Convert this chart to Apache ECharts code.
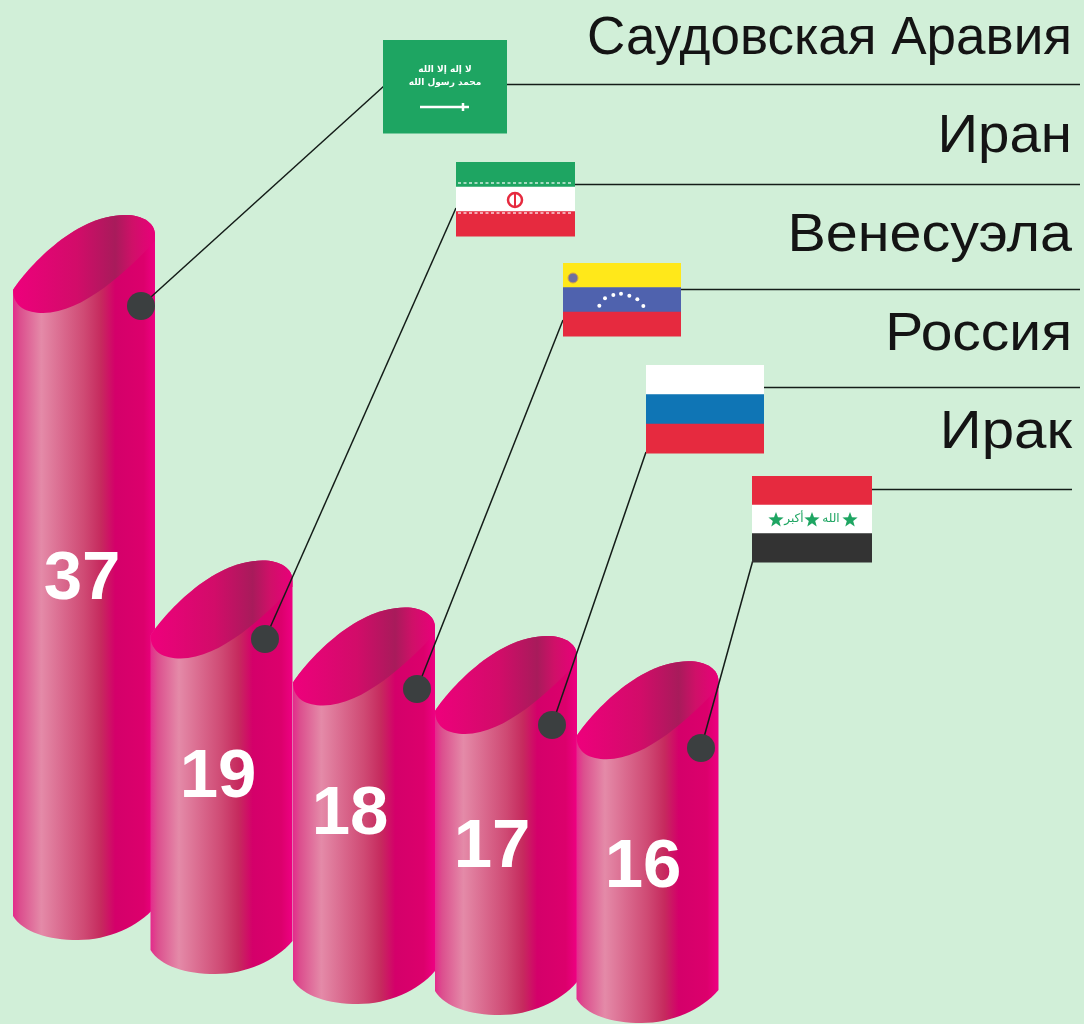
<!DOCTYPE html>
<html>
<head>
<meta charset="utf-8">
<title>Oil chart</title>
<script src="https://cdn.jsdelivr.net/npm/echarts@6/dist/echarts.min.js"></script>
<style>
html, body { margin: 0; padding: 0; background: #d1efd8; }
#chart { width: 1084px; height: 1024px; }
</style>
</head>
<body>
<div id="chart"></div>
<script>
// data
let countries = ["Саудовская Аравия", "Иран", "Венесуэла", "Россия", "Ирак"];
let values = [37, 19, 18, 17, 16];

// layout of the cylinders, pixels
let base_y = [940, 974, 1004, 1015, 1023];
let x_nudge = [0.5, -3, -1.5, -0.5, 0];
let value_x = [82, 218, 350, 492, 643];
let value_y = [580, 778, 815, 848, 868];
let dot_x = [141, 265, 417, 552, 701];
let dot_y = [306, 639, 689, 725, 748];

// layout of the flags and callouts
let flag_x = [383, 456, 563, 646, 752];
let flag_y = [40, 162, 263, 365, 476];
let flag_w = [124, 119, 118, 118, 120];
let flag_h = [93, 74, 73, 88, 86];
let lead_x = [384, 456, 563, 646, 753];
let lead_y = [86, 208, 320, 452, 560];
let rule_y = [84, 184, 289, 387, 489];
let rule_end = [1080, 1080, 1080, 1080, 1072];
let name_y = [66, 164, 263, 362, 460];
// the names in the picture are set a bit wide, except the first
let name_stretch = [1, 1.065, 1.085, 1.075, 1.1];

let RED = "#e62a3f";
let GREEN = "#1ea562";
let stripes = [
    [GREEN],
    [GREEN, "#ffffff", RED],
    ["#ffe81a", "#4f62ae", RED],
    ["#ffffff", "#0f75b5", RED],
    [RED, "#ffffff", "#333333"]
];

let body_colors = new echarts.graphic.LinearGradient(0, 0, 1, 0, [
    {offset: 0, color: "#e42a8c"},
    {offset: 0.05, color: "#dc4f8e"},
    {offset: 0.2, color: "#e48aa8"},
    {offset: 0.36, color: "#d9678c"},
    {offset: 0.5, color: "#cf4a74"},
    {offset: 0.62, color: "#c62a5e"},
    {offset: 0.72, color: "#d4006a"},
    {offset: 0.92, color: "#dc006c"},
    {offset: 1, color: "#ee0082"}
]);
let cap_colors = new echarts.graphic.LinearGradient(0, 0, 1, 0, [
    {offset: 0, color: "#ee007c"},
    {offset: 0.45, color: "#d20c69"},
    {offset: 0.72, color: "#a81b5b"},
    {offset: 0.84, color: "#cf1068"},
    {offset: 1, color: "#e9007a"}
]);

function draw_cylinder(params, api)
{
    let i = api.value(0);
    let band = api.size([1, 0])[0];
    let w = band + 1;
    let h = api.size([0, api.value(1)])[1];
    let L = api.coord([i, 0])[0] - w / 2 + x_nudge[i];
    let bot = base_y[i];
    let top = bot - 85 - h;
    let k = w / 142;
    let X = x => (L + x * k).toFixed(1);
    let Y = y => (top + y).toFixed(1);

    let rim = "C" + X(12) + "," + Y(56) + " " + X(60) + "," + Y(0) + " " + X(112) + "," + Y(0)
        + " C" + X(130) + "," + Y(0) + " " + X(142) + "," + Y(8) + " " + X(142) + "," + Y(20);
    let body = "M" + X(0) + "," + Y(75) + " " + rim
        + " L" + X(142) + "," + (bot - 33)
        + " C" + X(125) + "," + (bot - 13) + " " + X(95) + "," + bot + " " + X(65) + "," + bot
        + " C" + X(35) + "," + bot + " " + X(10) + "," + (bot - 8) + " " + X(0) + "," + (bot - 24) + " Z";
    let cap = "M" + X(0) + "," + Y(75) + " " + rim
        + " L" + X(142) + "," + Y(26)
        + " C" + X(115) + "," + Y(55) + " " + X(70) + "," + Y(98) + " " + X(30) + "," + Y(98)
        + " C" + X(14) + "," + Y(98) + " " + X(0) + "," + Y(92) + " " + X(0) + "," + Y(75) + " Z";

    return {
        type: "group",
        children: [
            {type: "path", shape: {pathData: body}, style: {fill: body_colors}},
            {type: "path", shape: {pathData: cap}, style: {fill: cap_colors}},
            {
                type: "text",
                style: {
                    text: String(api.value(1)), x: value_x[i], y: value_y[i],
                    fill: "#ffffff", font: 'bold 69px "Liberation Sans"',
                    align: "center", verticalAlign: "middle"
                }
            }
        ]
    };
}

function star(cx, cy, r, fill)
{
    let points = [];
    for (let n = 0; n < 10; n++)
    {
        let a = -Math.PI / 2 + n * Math.PI / 5;
        let rr = n % 2 ? r * 0.42 : r;
        points.push([cx + rr * Math.cos(a), cy + rr * Math.sin(a)]);
    }
    return {type: "polygon", shape: {points: points}, style: {fill: fill}};
}

function dashes(x1, x2, y)
{
    return {
        type: "line",
        shape: {x1: x1, y1: y, x2: x2, y2: y},
        style: {stroke: "#ffffff", lineWidth: 1.5, lineDash: [3, 2.5], opacity: 0.8}
    };
}

function flag_details(i, x, y)
{
    if (i == 0)
    {
        return [
            {
                type: "text",
                style: {
                    text: "لا إله إلا الله\nمحمد رسول الله", x: x + 62, y: y + 36,
                    fill: "#ffffff", font: 'bold 9px "DejaVu Sans"', lineHeight: 13,
                    align: "center", verticalAlign: "middle"
                }
            },
            {type: "line", shape: {x1: x + 37, y1: y + 67, x2: x + 86, y2: y + 67}, style: {stroke: "#ffffff", lineWidth: 2.5}},
            {type: "line", shape: {x1: x + 80, y1: y + 63, x2: x + 80, y2: y + 71}, style: {stroke: "#ffffff", lineWidth: 2.5}}
        ];
    }
    if (i == 1)
    {
        return [
            dashes(x + 2, x + 117, y + 21),
            dashes(x + 2, x + 117, y + 51),
            {type: "circle", shape: {cx: x + 59, cy: y + 38, r: 7}, style: {fill: "none", stroke: RED, lineWidth: 2.5}},
            {type: "line", shape: {x1: x + 59, y1: y + 30, x2: x + 59, y2: y + 46}, style: {stroke: RED, lineWidth: 2}}
        ];
    }
    if (i == 2)
    {
        let stars = [[148, 152], [165, 130], [190, 120], [213, 116], [238, 122], [262, 133], [280, 153]];
        let parts = stars.map(s => ({
            type: "circle",
            shape: {cx: 550 + s[0] / 3, cy: 255 + s[1] / 3, r: 2},
            style: {fill: "#ffffff"}
        }));
        parts.push({type: "circle", shape: {cx: x + 10, cy: y + 15, r: 5}, style: {fill: "#6f6fa0", stroke: "#d9a441", lineWidth: 1}});
        return parts;
    }
    if (i == 4)
    {
        let arabic = (text, tx) => ({
            type: "text",
            style: {
                text: text, x: tx, y: y + 43, fill: GREEN, font: '12px "DejaVu Sans"',
                align: "center", verticalAlign: "middle"
            }
        });
        return [
            star(x + 24, y + 44, 8, GREEN),
            star(x + 60, y + 44, 8, GREEN),
            star(x + 98, y + 44, 8, GREEN),
            arabic("أكبر", x + 42),
            arabic("الله", x + 79)
        ];
    }
    return [];
}

function draw_callout(params, api)
{
    let i = api.value(0);
    let x = flag_x[i], y = flag_y[i], w = flag_w[i], h = flag_h[i];
    let children = [
        {
            type: "line",
            shape: {x1: dot_x[i], y1: dot_y[i], x2: lead_x[i], y2: lead_y[i]},
            style: {stroke: "#141c18", lineWidth: 1.5}
        },
        {
            type: "line",
            shape: {x1: x + w, y1: rule_y[i] + 0.5, x2: rule_end[i], y2: rule_y[i] + 0.5},
            style: {stroke: "#141c18", lineWidth: 1.5}
        },
        {type: "circle", shape: {cx: dot_x[i], cy: dot_y[i], r: 14}, style: {fill: "#3b3f40"}}
    ];
    let bands = stripes[i];
    bands.forEach((colour, n) => {
        children.push({
            type: "rect",
            shape: {x: x, y: y + n * h / bands.length, width: w, height: h / bands.length + 0.5},
            style: {fill: colour}
        });
    });
    children = children.concat(flag_details(i, x, y));
    children.push({
        type: "text",
        x: 1072,
        y: name_y[i],
        scaleX: name_stretch[i],
        style: {
            text: countries[i], x: 0, y: 0,
            fill: "#141414", font: '53px "Liberation Sans"',
            align: "right", verticalAlign: "bottom"
        }
    });
    return {type: "group", children: children};
}

let series_data = values.map((v, i) => [i, v]);

var myChart = echarts.init(document.getElementById("chart"));
let option = {
    animation: false,
    backgroundColor: "#d1efd8",
    grid: {left: 13, width: 705, top: 0, height: 1024},
    xAxis: {type: "category", data: countries, show: false},
    yAxis: {type: "value", min: 0, max: 59.2, show: false},
    series: [
        {type: "custom", renderItem: draw_cylinder, data: series_data, z: 2, clip: false},
        {type: "custom", renderItem: draw_callout, data: series_data, z: 3, clip: false}
    ]
};
myChart.setOption(option);
</script>
</body>
</html>
